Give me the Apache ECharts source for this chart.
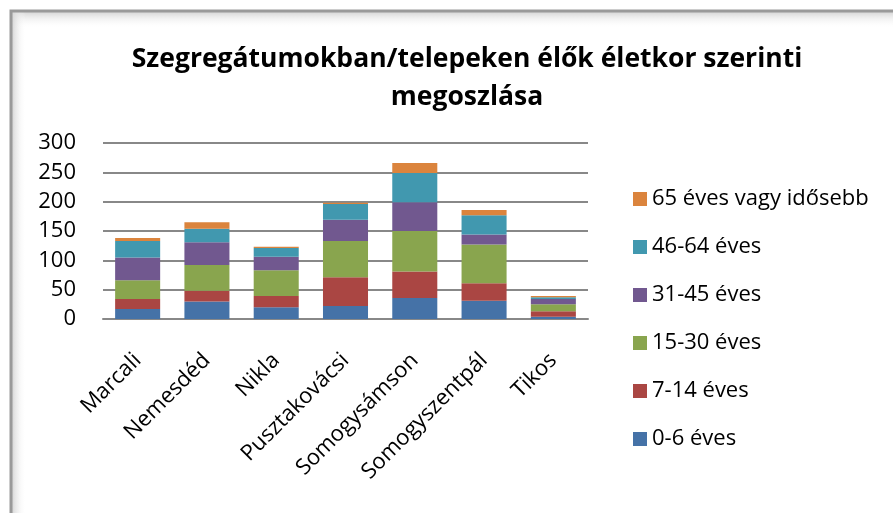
<!DOCTYPE html>
<html lang="hu">
<head>
    <meta charset="UTF-8">
    <script src="https://cdn.jsdelivr.net/npm/echarts@6/dist/echarts.min.js"></script>
    <style>
        html, body { margin: 0; padding: 0; background: #fff; }
    </style>
</head>
<body>
    <div id="chart" style="width: 893px; height: 513px;"></div>
    <script>
        var places = ['Marcali', 'Nemesdéd', 'Nikla', 'Pusztakovácsi', 'Somogysámson', 'Somogyszentpál', 'Tikos']
        var ageGroups = ['0-6 éves', '7-14 éves', '15-30 éves', '31-45 éves', '46-64 éves', '65 éves vagy idősebb']
        var colors = ['#4572A7', '#AA4643', '#89A54E', '#71588F', '#4198AF', '#DB843D']

        var age0_6 = [17, 30, 20, 22, 36, 31, 4]
        var age7_14 = [17, 18, 19, 49, 45, 30, 9]
        var age15_30 = [32, 44, 44, 62, 69, 66, 12]
        var age31_45 = [39, 39, 23, 36, 49, 17, 9]
        var age46_64 = [28, 23, 15, 27, 50, 33, 3]
        var age65 = [5, 11, 2, 2, 17, 9, 2]
        var values = [age0_6, age7_14, age15_30, age31_45, age46_64, age65]

        var font = '"Open Sans", "Noto Sans", sans-serif'

        var series = ageGroups.map(function (name, i) {
            return {
                name: name,
                type: 'bar',
                stack: 'total',
                barWidth: '65%',
                data: values[i],
                itemStyle: { color: colors[i] }
            }
        })

        var myChart = echarts.init(document.getElementById('chart'))
        var option = {
            animation: false,
            title: {
                text: 'Szegregátumokban/telepeken élők életkor szerinti\nmegoszlása',
                left: 462,
                top: 35,
                textAlign: 'center',
                textStyle: {
                    fontFamily: font,
                    fontSize: 26.5,
                    fontWeight: 'bold',
                    color: '#000',
                    lineHeight: 38
                }
            },
            legend: {
                orient: 'vertical',
                left: 628,
                top: 183,
                itemWidth: 14,
                itemHeight: 14,
                itemGap: 26,
                icon: 'rect',
                data: ageGroups.slice().reverse(),
                textStyle: {
                    fontFamily: font,
                    fontSize: 22,
                    color: '#000'
                }
            },
            grid: {
                left: 103,
                right: 305,
                top: 143,
                bottom: 194,
                containLabel: false
            },
            xAxis: {
                type: 'category',
                data: places,
                axisTick: { show: false },
                axisLine: { lineStyle: { color: '#888', width: 2 } },
                axisLabel: {
                    rotate: 45,
                    interval: 0,
                    margin: 38,
                    fontFamily: font,
                    fontSize: 22,
                    color: '#000'
                }
            },
            yAxis: {
                type: 'value',
                min: 0,
                max: 300,
                interval: 50,
                axisLine: { show: false },
                axisTick: { show: false },
                splitLine: { lineStyle: { color: '#888', width: 2 } },
                axisLabel: {
                    margin: 27,
                    fontFamily: font,
                    fontSize: 22,
                    color: '#000'
                }
            },
            graphic: [
                {
                    type: 'rect',
                    shape: { x: 11, y: 11, width: 900, height: 520 },
                    style: { fill: 'none', stroke: '#9a9a9a', lineWidth: 3 },
                    z: 100
                },
                {
                    type: 'rect',
                    shape: { x: 12, y: 12, width: 890, height: 16 },
                    style: {
                        fill: new echarts.graphic.LinearGradient(0, 0, 0, 1, [
                            { offset: 0, color: '#d6d6d6' },
                            { offset: 1, color: 'rgba(255,255,255,0)' }
                        ])
                    },
                    z: 99
                },
                {
                    type: 'rect',
                    shape: { x: 12, y: 12, width: 14, height: 510 },
                    style: {
                        fill: new echarts.graphic.LinearGradient(0, 0, 1, 0, [
                            { offset: 0, color: '#d6d6d6' },
                            { offset: 1, color: 'rgba(255,255,255,0)' }
                        ])
                    },
                    z: 99
                }
            ],
            series: series
        }
        myChart.setOption(option)
    </script>
</body>
</html>
